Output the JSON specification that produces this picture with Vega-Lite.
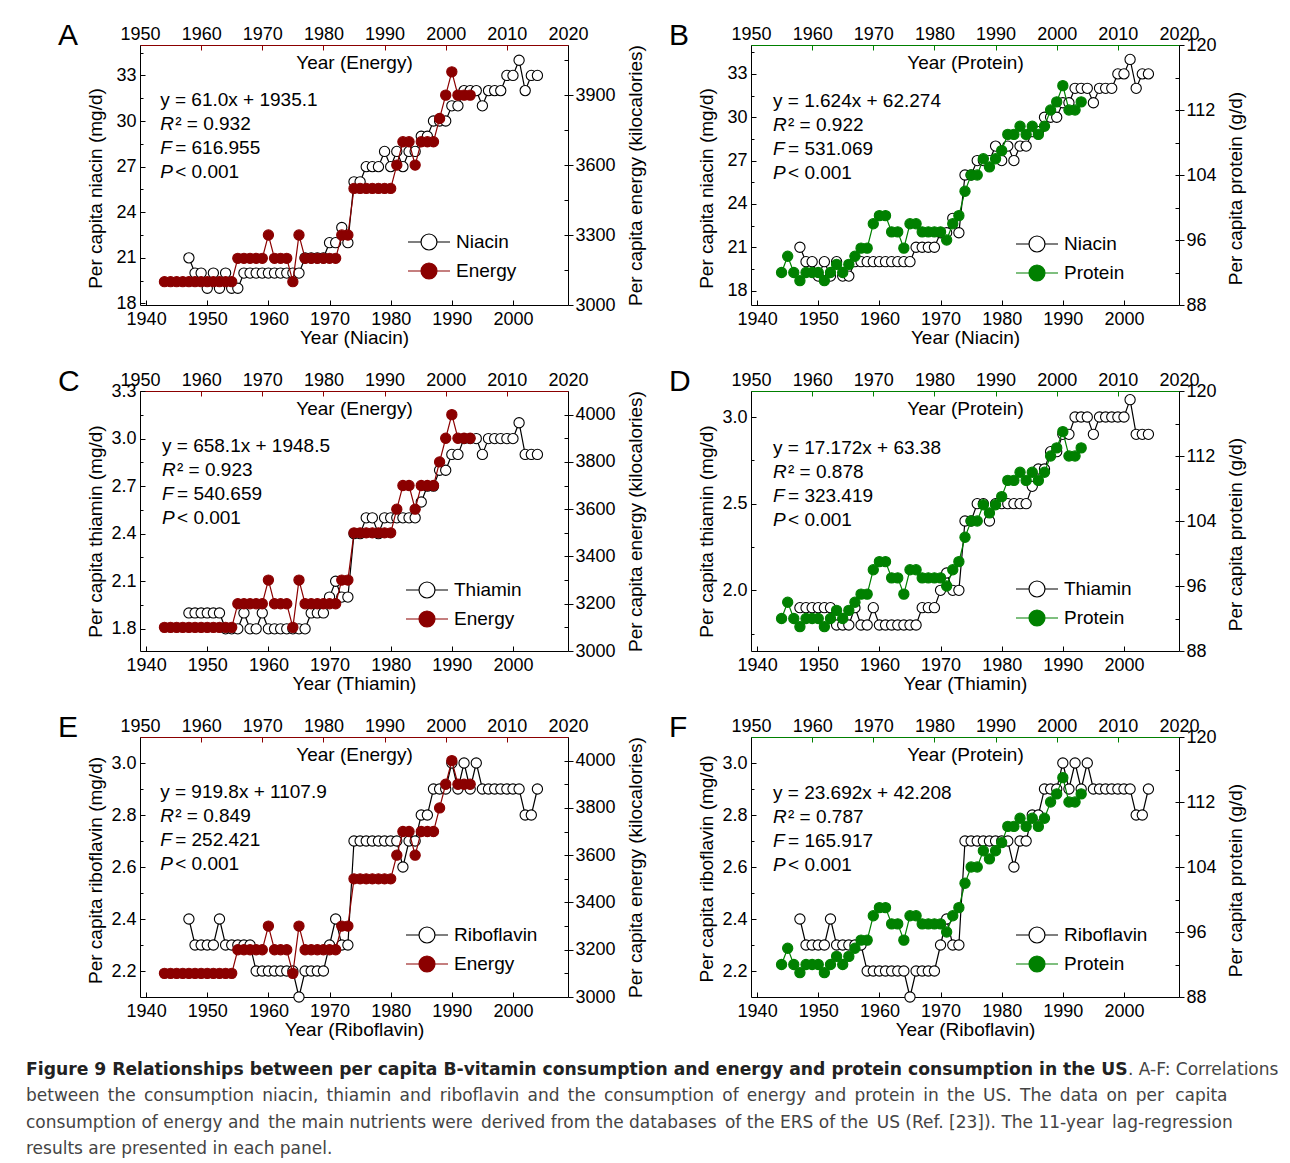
{
  "$schema": "https://vega.github.io/schema/vega-lite/v6.json",
  "background": "white",
  "padding": {"left": 26, "top": 21, "right": 5, "bottom": 5},
  "datasets": {
    "niacin": [
      {"year": 1947, "Niacin": 21}, {"year": 1948, "Niacin": 20}, {"year": 1949, "Niacin": 20}, {"year": 1950, "Niacin": 19},
      {"year": 1951, "Niacin": 20}, {"year": 1952, "Niacin": 19}, {"year": 1953, "Niacin": 20}, {"year": 1954, "Niacin": 19},
      {"year": 1955, "Niacin": 19}, {"year": 1956, "Niacin": 20}, {"year": 1957, "Niacin": 20}, {"year": 1958, "Niacin": 20},
      {"year": 1959, "Niacin": 20}, {"year": 1960, "Niacin": 20}, {"year": 1961, "Niacin": 20}, {"year": 1962, "Niacin": 20},
      {"year": 1963, "Niacin": 20}, {"year": 1964, "Niacin": 20}, {"year": 1965, "Niacin": 20}, {"year": 1966, "Niacin": 21},
      {"year": 1967, "Niacin": 21}, {"year": 1968, "Niacin": 21}, {"year": 1969, "Niacin": 21}, {"year": 1970, "Niacin": 22},
      {"year": 1971, "Niacin": 22}, {"year": 1972, "Niacin": 23}, {"year": 1973, "Niacin": 22}, {"year": 1974, "Niacin": 26},
      {"year": 1975, "Niacin": 26}, {"year": 1976, "Niacin": 27}, {"year": 1977, "Niacin": 27}, {"year": 1978, "Niacin": 27},
      {"year": 1979, "Niacin": 28}, {"year": 1980, "Niacin": 27}, {"year": 1981, "Niacin": 28}, {"year": 1982, "Niacin": 27},
      {"year": 1983, "Niacin": 28}, {"year": 1984, "Niacin": 28}, {"year": 1985, "Niacin": 29}, {"year": 1986, "Niacin": 29},
      {"year": 1987, "Niacin": 30}, {"year": 1988, "Niacin": 30}, {"year": 1989, "Niacin": 30}, {"year": 1990, "Niacin": 31},
      {"year": 1991, "Niacin": 31}, {"year": 1992, "Niacin": 32}, {"year": 1993, "Niacin": 32}, {"year": 1994, "Niacin": 32},
      {"year": 1995, "Niacin": 31}, {"year": 1996, "Niacin": 32}, {"year": 1997, "Niacin": 32}, {"year": 1998, "Niacin": 32},
      {"year": 1999, "Niacin": 33}, {"year": 2000, "Niacin": 33}, {"year": 2001, "Niacin": 34}, {"year": 2002, "Niacin": 32},
      {"year": 2003, "Niacin": 33}, {"year": 2004, "Niacin": 33}
    ],
    "thiamin": [
      {"year": 1947, "Thiamin": 1.9}, {"year": 1948, "Thiamin": 1.9}, {"year": 1949, "Thiamin": 1.9}, {"year": 1950, "Thiamin": 1.9},
      {"year": 1951, "Thiamin": 1.9}, {"year": 1952, "Thiamin": 1.9}, {"year": 1953, "Thiamin": 1.8}, {"year": 1954, "Thiamin": 1.8},
      {"year": 1955, "Thiamin": 1.8}, {"year": 1956, "Thiamin": 1.9}, {"year": 1957, "Thiamin": 1.8}, {"year": 1958, "Thiamin": 1.8},
      {"year": 1959, "Thiamin": 1.9}, {"year": 1960, "Thiamin": 1.8}, {"year": 1961, "Thiamin": 1.8}, {"year": 1962, "Thiamin": 1.8},
      {"year": 1963, "Thiamin": 1.8}, {"year": 1964, "Thiamin": 1.8}, {"year": 1965, "Thiamin": 1.8}, {"year": 1966, "Thiamin": 1.8},
      {"year": 1967, "Thiamin": 1.9}, {"year": 1968, "Thiamin": 1.9}, {"year": 1969, "Thiamin": 1.9}, {"year": 1970, "Thiamin": 2.0},
      {"year": 1971, "Thiamin": 2.1}, {"year": 1972, "Thiamin": 2.0}, {"year": 1973, "Thiamin": 2.0}, {"year": 1974, "Thiamin": 2.4},
      {"year": 1975, "Thiamin": 2.4}, {"year": 1976, "Thiamin": 2.5}, {"year": 1977, "Thiamin": 2.5}, {"year": 1978, "Thiamin": 2.4},
      {"year": 1979, "Thiamin": 2.5}, {"year": 1980, "Thiamin": 2.5}, {"year": 1981, "Thiamin": 2.5}, {"year": 1982, "Thiamin": 2.5},
      {"year": 1983, "Thiamin": 2.5}, {"year": 1984, "Thiamin": 2.5}, {"year": 1985, "Thiamin": 2.6}, {"year": 1986, "Thiamin": 2.7},
      {"year": 1987, "Thiamin": 2.7}, {"year": 1988, "Thiamin": 2.8}, {"year": 1989, "Thiamin": 2.8}, {"year": 1990, "Thiamin": 2.9},
      {"year": 1991, "Thiamin": 2.9}, {"year": 1992, "Thiamin": 3.0}, {"year": 1993, "Thiamin": 3.0}, {"year": 1994, "Thiamin": 3.0},
      {"year": 1995, "Thiamin": 2.9}, {"year": 1996, "Thiamin": 3.0}, {"year": 1997, "Thiamin": 3.0}, {"year": 1998, "Thiamin": 3.0},
      {"year": 1999, "Thiamin": 3.0}, {"year": 2000, "Thiamin": 3.0}, {"year": 2001, "Thiamin": 3.1}, {"year": 2002, "Thiamin": 2.9},
      {"year": 2003, "Thiamin": 2.9}, {"year": 2004, "Thiamin": 2.9}
    ],
    "riboflavin": [
      {"year": 1947, "Riboflavin": 2.4}, {"year": 1948, "Riboflavin": 2.3}, {"year": 1949, "Riboflavin": 2.3}, {"year": 1950, "Riboflavin": 2.3},
      {"year": 1951, "Riboflavin": 2.3}, {"year": 1952, "Riboflavin": 2.4}, {"year": 1953, "Riboflavin": 2.3}, {"year": 1954, "Riboflavin": 2.3},
      {"year": 1955, "Riboflavin": 2.3}, {"year": 1956, "Riboflavin": 2.3}, {"year": 1957, "Riboflavin": 2.3}, {"year": 1958, "Riboflavin": 2.2},
      {"year": 1959, "Riboflavin": 2.2}, {"year": 1960, "Riboflavin": 2.2}, {"year": 1961, "Riboflavin": 2.2}, {"year": 1962, "Riboflavin": 2.2},
      {"year": 1963, "Riboflavin": 2.2}, {"year": 1964, "Riboflavin": 2.2}, {"year": 1965, "Riboflavin": 2.1}, {"year": 1966, "Riboflavin": 2.2},
      {"year": 1967, "Riboflavin": 2.2}, {"year": 1968, "Riboflavin": 2.2}, {"year": 1969, "Riboflavin": 2.2}, {"year": 1970, "Riboflavin": 2.3},
      {"year": 1971, "Riboflavin": 2.4}, {"year": 1972, "Riboflavin": 2.3}, {"year": 1973, "Riboflavin": 2.3}, {"year": 1974, "Riboflavin": 2.7},
      {"year": 1975, "Riboflavin": 2.7}, {"year": 1976, "Riboflavin": 2.7}, {"year": 1977, "Riboflavin": 2.7}, {"year": 1978, "Riboflavin": 2.7},
      {"year": 1979, "Riboflavin": 2.7}, {"year": 1980, "Riboflavin": 2.7}, {"year": 1981, "Riboflavin": 2.7}, {"year": 1982, "Riboflavin": 2.6},
      {"year": 1983, "Riboflavin": 2.7}, {"year": 1984, "Riboflavin": 2.7}, {"year": 1985, "Riboflavin": 2.8}, {"year": 1986, "Riboflavin": 2.8},
      {"year": 1987, "Riboflavin": 2.9}, {"year": 1988, "Riboflavin": 2.9}, {"year": 1989, "Riboflavin": 2.9}, {"year": 1990, "Riboflavin": 3.0},
      {"year": 1991, "Riboflavin": 2.9}, {"year": 1992, "Riboflavin": 3.0}, {"year": 1993, "Riboflavin": 2.9}, {"year": 1994, "Riboflavin": 3.0},
      {"year": 1995, "Riboflavin": 2.9}, {"year": 1996, "Riboflavin": 2.9}, {"year": 1997, "Riboflavin": 2.9}, {"year": 1998, "Riboflavin": 2.9},
      {"year": 1999, "Riboflavin": 2.9}, {"year": 2000, "Riboflavin": 2.9}, {"year": 2001, "Riboflavin": 2.9}, {"year": 2002, "Riboflavin": 2.8},
      {"year": 2003, "Riboflavin": 2.8}, {"year": 2004, "Riboflavin": 2.9}
    ],
    "energy": [
      {"year": 1954, "Energy": 3100}, {"year": 1955, "Energy": 3100}, {"year": 1956, "Energy": 3100}, {"year": 1957, "Energy": 3100},
      {"year": 1958, "Energy": 3100}, {"year": 1959, "Energy": 3100}, {"year": 1960, "Energy": 3100}, {"year": 1961, "Energy": 3100},
      {"year": 1962, "Energy": 3100}, {"year": 1963, "Energy": 3100}, {"year": 1964, "Energy": 3100}, {"year": 1965, "Energy": 3100},
      {"year": 1966, "Energy": 3200}, {"year": 1967, "Energy": 3200}, {"year": 1968, "Energy": 3200}, {"year": 1969, "Energy": 3200},
      {"year": 1970, "Energy": 3200}, {"year": 1971, "Energy": 3300}, {"year": 1972, "Energy": 3200}, {"year": 1973, "Energy": 3200},
      {"year": 1974, "Energy": 3200}, {"year": 1975, "Energy": 3100}, {"year": 1976, "Energy": 3300}, {"year": 1977, "Energy": 3200},
      {"year": 1978, "Energy": 3200}, {"year": 1979, "Energy": 3200}, {"year": 1980, "Energy": 3200}, {"year": 1981, "Energy": 3200},
      {"year": 1982, "Energy": 3200}, {"year": 1983, "Energy": 3300}, {"year": 1984, "Energy": 3300}, {"year": 1985, "Energy": 3500},
      {"year": 1986, "Energy": 3500}, {"year": 1987, "Energy": 3500}, {"year": 1988, "Energy": 3500}, {"year": 1989, "Energy": 3500},
      {"year": 1990, "Energy": 3500}, {"year": 1991, "Energy": 3500}, {"year": 1992, "Energy": 3600}, {"year": 1993, "Energy": 3700},
      {"year": 1994, "Energy": 3700}, {"year": 1995, "Energy": 3600}, {"year": 1996, "Energy": 3700}, {"year": 1997, "Energy": 3700},
      {"year": 1998, "Energy": 3700}, {"year": 1999, "Energy": 3800}, {"year": 2000, "Energy": 3900}, {"year": 2001, "Energy": 4000},
      {"year": 2002, "Energy": 3900}, {"year": 2003, "Energy": 3900}, {"year": 2004, "Energy": 3900}
    ],
    "protein": [
      {"year": 1955, "Protein": 92}, {"year": 1956, "Protein": 94}, {"year": 1957, "Protein": 92}, {"year": 1958, "Protein": 91},
      {"year": 1959, "Protein": 92}, {"year": 1960, "Protein": 92}, {"year": 1961, "Protein": 92}, {"year": 1962, "Protein": 91},
      {"year": 1963, "Protein": 92}, {"year": 1964, "Protein": 93}, {"year": 1965, "Protein": 92}, {"year": 1966, "Protein": 93},
      {"year": 1967, "Protein": 94}, {"year": 1968, "Protein": 95}, {"year": 1969, "Protein": 95}, {"year": 1970, "Protein": 98},
      {"year": 1971, "Protein": 99}, {"year": 1972, "Protein": 99}, {"year": 1973, "Protein": 97}, {"year": 1974, "Protein": 97},
      {"year": 1975, "Protein": 95}, {"year": 1976, "Protein": 98}, {"year": 1977, "Protein": 98}, {"year": 1978, "Protein": 97},
      {"year": 1979, "Protein": 97}, {"year": 1980, "Protein": 97}, {"year": 1981, "Protein": 97}, {"year": 1982, "Protein": 96},
      {"year": 1983, "Protein": 98}, {"year": 1984, "Protein": 99}, {"year": 1985, "Protein": 102}, {"year": 1986, "Protein": 104},
      {"year": 1987, "Protein": 104}, {"year": 1988, "Protein": 106}, {"year": 1989, "Protein": 105}, {"year": 1990, "Protein": 106},
      {"year": 1991, "Protein": 107}, {"year": 1992, "Protein": 109}, {"year": 1993, "Protein": 109}, {"year": 1994, "Protein": 110},
      {"year": 1995, "Protein": 109}, {"year": 1996, "Protein": 110}, {"year": 1997, "Protein": 109}, {"year": 1998, "Protein": 110},
      {"year": 1999, "Protein": 112}, {"year": 2000, "Protein": 113}, {"year": 2001, "Protein": 115}, {"year": 2002, "Protein": 112},
      {"year": 2003, "Protein": 112}, {"year": 2004, "Protein": 113}
    ],
    "eq": [
      {"panel": "A", "eq": "y = 61.0x + 1935.1", "it": "\nR\nF\nP", "rest": "\n² = 0.932\n= 616.955\n< 0.001"},
      {"panel": "B", "eq": "y = 1.624x + 62.274", "it": "\nR\nF\nP", "rest": "\n² = 0.922\n= 531.069\n< 0.001"},
      {"panel": "C", "eq": "y = 658.1x + 1948.5", "it": "\nR\nF\nP", "rest": "\n² = 0.923\n= 540.659\n< 0.001"},
      {"panel": "D", "eq": "y = 17.172x + 63.38", "it": "\nR\nF\nP", "rest": "\n² = 0.878\n= 323.419\n< 0.001"},
      {"panel": "E", "eq": "y = 919.8x + 1107.9", "it": "\nR\nF\nP", "rest": "\n² = 0.849\n= 252.421\n< 0.001"},
      {"panel": "F", "eq": "y = 23.692x + 42.208", "it": "\nR\nF\nP", "rest": "\n² = 0.787\n= 165.917\n< 0.001"}
    ],
    "caption": [
      {"line": 1, "part": "title", "text": "Figure 9 Relationships between per capita B-vitamin consumption and energy and protein consumption in the US"},
      {"line": 1, "part": "lead", "text": ". A-F: Correlations"},
      {"line": 2, "part": "body", "text": "between \u2006the \u2006consumption \u2006niacin, \u2006thiamin \u2006and \u2006riboflavin \u2006and \u2006the \u2006consumption \u2006of \u2006energy \u2006and \u2006protein \u2006in \u2006the \u2006US. \u2006The \u2006data \u2006on \u2006per \u2006\u2006capita"},
      {"line": 3, "part": "body", "text": "consumption of energy and \u2006the main nutrients were \u2006derived from the databases \u2006of the ERS of the \u2006US (Ref. [23]). The 11-year \u2006lag-regression"},
      {"line": 4, "part": "body", "text": "results are presented in each panel."}
    ]
  },
  "bounds": "flush",
  "columns": 2,
  "spacing": {"row": 86, "column": 183},
  "resolve": {"scale": {"color": "independent", "fill": "independent"}, "legend": {"color": "independent", "fill": "independent"}},
  "concat": [
    {
      "width": 428, "height": 260, "title": "A",
      "resolve": {"scale": {"x": "independent", "y": "independent"}},
      "layer": [
        {"data": {"name": "niacin"}, "transform": [{"fold": ["Niacin"], "as": ["series", "v"]}], "mark": "line",
         "encoding": {
           "x": {"field": "year", "type": "quantitative", "scale": {"domain": [1939, 2009], "nice": false, "zero": false},
                 "axis": {"orient": "bottom", "values": [1940, 1950, 1960, 1970, 1980, 1990, 2000], "format": "d", "title": "Year (Niacin)"}},
           "y": {"field": "v", "type": "quantitative", "scale": {"domain": [17.9, 35], "nice": false, "zero": false},
                 "axis": {"orient": "left", "values": [18, 21, 24, 27, 30, 33], "format": "d", "title": "Per capita niacin (mg/d)", "titleY": 143}},
           "color": {"field": "series", "type": "nominal", "scale": {"domain": ["Niacin", "Energy"], "range": ["#000000", "#8b0000"]}, "legend": {"title": null, "legendX": 267, "legendY": 182.5}}}},
        {"data": {"name": "niacin"}, "transform": [{"fold": ["Niacin"], "as": ["series", "v"]}], "mark": "point",
         "encoding": {
           "x": {"field": "year", "type": "quantitative", "scale": {"domain": [1939, 2009], "nice": false, "zero": false}, "axis": null},
           "y": {"field": "v", "type": "quantitative", "scale": {"domain": [17.9, 35], "nice": false, "zero": false},
                 "axis": {"orient": "left", "values": [19.5, 22.5, 25.5, 28.5, 31.5, 34.5], "labels": false, "domain": false, "title": null, "tickSize": -3}},
           "color": {"field": "series", "type": "nominal", "scale": {"domain": ["Niacin", "Energy"], "range": ["#000000", "#8b0000"]}, "legend": {"title": null, "legendX": 267, "legendY": 182.5}},
           "fill": {"field": "series", "type": "nominal", "scale": {"domain": ["Niacin", "Energy"], "range": ["#ffffff", "#8b0000"]}, "legend": {"title": null, "legendX": 267, "legendY": 182.5}}}},
        {"data": {"name": "energy"}, "transform": [{"fold": ["Energy"], "as": ["series", "v"]}], "mark": "line",
         "encoding": {
           "x": {"field": "year", "type": "quantitative", "scale": {"domain": [1950, 2020], "nice": false, "zero": false},
                 "axis": {"orient": "top", "values": [1950, 1960, 1970, 1980, 1990, 2000, 2010, 2020], "format": "d", "title": "Year (Energy)", "domainColor": "#8b0000", "tickColor": "#8b0000"}},
           "y": {"field": "v", "type": "quantitative", "scale": {"domain": [3000, 4115], "nice": false, "zero": false},
                 "axis": {"orient": "right", "values": [3000, 3300, 3600, 3900], "format": "d", "title": "Per capita energy (kilocalories)", "titleY": 130}},
           "color": {"field": "series", "type": "nominal", "scale": {"domain": ["Niacin", "Energy"], "range": ["#000000", "#8b0000"]}, "legend": {"title": null, "legendX": 267, "legendY": 182.5}}}},
        {"data": {"name": "energy"}, "transform": [{"fold": ["Energy"], "as": ["series", "v"]}], "mark": "point",
         "encoding": {
           "x": {"field": "year", "type": "quantitative", "scale": {"domain": [1950, 2020], "nice": false, "zero": false}, "axis": null},
           "y": {"field": "v", "type": "quantitative", "scale": {"domain": [3000, 4115], "nice": false, "zero": false},
                 "axis": {"orient": "right", "values": [3150, 3300, 3450, 3600, 3750, 3900, 4050], "labels": false, "domain": false, "title": null, "tickSize": -4}},
           "color": {"field": "series", "type": "nominal", "scale": {"domain": ["Niacin", "Energy"], "range": ["#000000", "#8b0000"]}, "legend": {"title": null, "legendX": 267, "legendY": 182.5}},
           "fill": {"field": "series", "type": "nominal", "scale": {"domain": ["Niacin", "Energy"], "range": ["#ffffff", "#8b0000"]}, "legend": {"title": null, "legendX": 267, "legendY": 182.5}}}},
        {"data": {"name": "eq"}, "transform": [{"filter": "datum.panel == 'A'"}], "mark": {"type": "text", "style": "eq"},
         "encoding": {"x": {"datum": 1942.3, "type": "quantitative", "scale": {"domain": [1939, 2009], "nice": false, "zero": false}, "axis": null},
                      "y": {"datum": 32.0, "type": "quantitative", "scale": {"domain": [17.9, 35], "nice": false, "zero": false}, "axis": null},
                      "text": {"field": "eq"}, "color": {"value": "#000000"}}},
        {"data": {"name": "eq"}, "transform": [{"filter": "datum.panel == 'A'"}], "mark": {"type": "text", "style": "eqi"},
         "encoding": {"x": {"datum": 1942.3, "type": "quantitative", "scale": {"domain": [1939, 2009], "nice": false, "zero": false}, "axis": null},
                      "y": {"datum": 32.0, "type": "quantitative", "scale": {"domain": [17.9, 35], "nice": false, "zero": false}, "axis": null},
                      "text": {"field": "it"}, "color": {"value": "#000000"}}},
        {"data": {"name": "eq"}, "transform": [{"filter": "datum.panel == 'A'"}], "mark": {"type": "text", "style": "eqr"},
         "encoding": {"x": {"datum": 1942.3, "type": "quantitative", "scale": {"domain": [1939, 2009], "nice": false, "zero": false}, "axis": null},
                      "y": {"datum": 32.0, "type": "quantitative", "scale": {"domain": [17.9, 35], "nice": false, "zero": false}, "axis": null},
                      "text": {"field": "rest"}, "color": {"value": "#000000"}}}
      ]
    },
    {
      "width": 428, "height": 260, "title": "B",
      "resolve": {"scale": {"x": "independent", "y": "independent"}},
      "layer": [
        {"data": {"name": "niacin"}, "transform": [{"fold": ["Niacin"], "as": ["series", "v"]}], "mark": "line",
         "encoding": {
           "x": {"field": "year", "type": "quantitative", "scale": {"domain": [1939, 2009], "nice": false, "zero": false},
                 "axis": {"orient": "bottom", "values": [1940, 1950, 1960, 1970, 1980, 1990, 2000], "format": "d", "title": "Year (Niacin)"}},
           "y": {"field": "v", "type": "quantitative", "scale": {"domain": [17, 35], "nice": false, "zero": false},
                 "axis": {"orient": "left", "values": [18, 21, 24, 27, 30, 33], "format": "d", "title": "Per capita niacin (mg/d)", "titleY": 143}},
           "color": {"field": "series", "type": "nominal", "scale": {"domain": ["Niacin", "Protein"], "range": ["#000000", "#008000"]}, "legend": {"title": null, "legendX": 264, "legendY": 184.5}}}},
        {"data": {"name": "niacin"}, "transform": [{"fold": ["Niacin"], "as": ["series", "v"]}], "mark": "point",
         "encoding": {
           "x": {"field": "year", "type": "quantitative", "scale": {"domain": [1939, 2009], "nice": false, "zero": false}, "axis": null},
           "y": {"field": "v", "type": "quantitative", "scale": {"domain": [17, 35], "nice": false, "zero": false},
                 "axis": {"orient": "left", "values": [19.5, 22.5, 25.5, 28.5, 31.5, 34.5], "labels": false, "domain": false, "title": null, "tickSize": -3}},
           "color": {"field": "series", "type": "nominal", "scale": {"domain": ["Niacin", "Protein"], "range": ["#000000", "#008000"]}, "legend": {"title": null, "legendX": 264, "legendY": 184.5}},
           "fill": {"field": "series", "type": "nominal", "scale": {"domain": ["Niacin", "Protein"], "range": ["#ffffff", "#008000"]}, "legend": {"title": null, "legendX": 264, "legendY": 184.5}}}},
        {"data": {"name": "protein"}, "transform": [{"fold": ["Protein"], "as": ["series", "v"]}], "mark": "line",
         "encoding": {
           "x": {"field": "year", "type": "quantitative", "scale": {"domain": [1950, 2020], "nice": false, "zero": false},
                 "axis": {"orient": "top", "values": [1950, 1960, 1970, 1980, 1990, 2000, 2010, 2020], "format": "d", "title": "Year (Protein)", "domainColor": "#008000", "tickColor": "#008000"}},
           "y": {"field": "v", "type": "quantitative", "scale": {"domain": [88, 120], "nice": false, "zero": false},
                 "axis": {"orient": "right", "values": [88, 96, 104, 112, 120], "format": "d", "title": "Per capita protein (g/d)", "titleY": 143, "titleX": 56}},
           "color": {"field": "series", "type": "nominal", "scale": {"domain": ["Niacin", "Protein"], "range": ["#000000", "#008000"]}, "legend": {"title": null, "legendX": 264, "legendY": 184.5}}}},
        {"data": {"name": "protein"}, "transform": [{"fold": ["Protein"], "as": ["series", "v"]}], "mark": "point",
         "encoding": {
           "x": {"field": "year", "type": "quantitative", "scale": {"domain": [1950, 2020], "nice": false, "zero": false}, "axis": null},
           "y": {"field": "v", "type": "quantitative", "scale": {"domain": [88, 120], "nice": false, "zero": false},
                 "axis": {"orient": "right", "values": [92, 96, 100, 104, 108, 112, 116], "labels": false, "domain": false, "title": null, "tickSize": -4}},
           "color": {"field": "series", "type": "nominal", "scale": {"domain": ["Niacin", "Protein"], "range": ["#000000", "#008000"]}, "legend": {"title": null, "legendX": 264, "legendY": 184.5}},
           "fill": {"field": "series", "type": "nominal", "scale": {"domain": ["Niacin", "Protein"], "range": ["#ffffff", "#008000"]}, "legend": {"title": null, "legendX": 264, "legendY": 184.5}}}},
        {"data": {"name": "eq"}, "transform": [{"filter": "datum.panel == 'B'"}], "mark": {"type": "text", "style": "eq"},
         "encoding": {"x": {"datum": 1942.6, "type": "quantitative", "scale": {"domain": [1939, 2009], "nice": false, "zero": false}, "axis": null},
                      "y": {"datum": 31.75, "type": "quantitative", "scale": {"domain": [17, 35], "nice": false, "zero": false}, "axis": null},
                      "text": {"field": "eq"}, "color": {"value": "#000000"}}},
        {"data": {"name": "eq"}, "transform": [{"filter": "datum.panel == 'B'"}], "mark": {"type": "text", "style": "eqi"},
         "encoding": {"x": {"datum": 1942.6, "type": "quantitative", "scale": {"domain": [1939, 2009], "nice": false, "zero": false}, "axis": null},
                      "y": {"datum": 31.75, "type": "quantitative", "scale": {"domain": [17, 35], "nice": false, "zero": false}, "axis": null},
                      "text": {"field": "it"}, "color": {"value": "#000000"}}},
        {"data": {"name": "eq"}, "transform": [{"filter": "datum.panel == 'B'"}], "mark": {"type": "text", "style": "eqr"},
         "encoding": {"x": {"datum": 1942.6, "type": "quantitative", "scale": {"domain": [1939, 2009], "nice": false, "zero": false}, "axis": null},
                      "y": {"datum": 31.75, "type": "quantitative", "scale": {"domain": [17, 35], "nice": false, "zero": false}, "axis": null},
                      "text": {"field": "rest"}, "color": {"value": "#000000"}}}
      ]
    },
    {
      "width": 428, "height": 260, "title": "C",
      "resolve": {"scale": {"x": "independent", "y": "independent"}},
      "layer": [
        {"data": {"name": "thiamin"}, "transform": [{"fold": ["Thiamin"], "as": ["series", "v"]}], "mark": "line",
         "encoding": {
           "x": {"field": "year", "type": "quantitative", "scale": {"domain": [1939, 2009], "nice": false, "zero": false},
                 "axis": {"orient": "bottom", "values": [1940, 1950, 1960, 1970, 1980, 1990, 2000], "format": "d", "title": "Year (Thiamin)"}},
           "y": {"field": "v", "type": "quantitative", "scale": {"domain": [1.66, 3.3], "nice": false, "zero": false},
                 "axis": {"orient": "left", "values": [1.8, 2.1, 2.4, 2.7, 3.0, 3.3], "format": ".1f", "title": "Per capita thiamin (mg/d)", "titleY": 140}},
           "color": {"field": "series", "type": "nominal", "scale": {"domain": ["Thiamin", "Energy"], "range": ["#000000", "#8b0000"]}, "legend": {"title": null, "legendX": 265, "legendY": 184.5}}}},
        {"data": {"name": "thiamin"}, "transform": [{"fold": ["Thiamin"], "as": ["series", "v"]}], "mark": "point",
         "encoding": {
           "x": {"field": "year", "type": "quantitative", "scale": {"domain": [1939, 2009], "nice": false, "zero": false}, "axis": null},
           "y": {"field": "v", "type": "quantitative", "scale": {"domain": [1.66, 3.3], "nice": false, "zero": false},
                 "axis": {"orient": "left", "values": [1.95, 2.25, 2.55, 2.85, 3.15], "labels": false, "domain": false, "title": null, "tickSize": -3}},
           "color": {"field": "series", "type": "nominal", "scale": {"domain": ["Thiamin", "Energy"], "range": ["#000000", "#8b0000"]}, "legend": {"title": null, "legendX": 265, "legendY": 184.5}},
           "fill": {"field": "series", "type": "nominal", "scale": {"domain": ["Thiamin", "Energy"], "range": ["#ffffff", "#8b0000"]}, "legend": {"title": null, "legendX": 265, "legendY": 184.5}}}},
        {"data": {"name": "energy"}, "transform": [{"fold": ["Energy"], "as": ["series", "v"]}], "mark": "line",
         "encoding": {
           "x": {"field": "year", "type": "quantitative", "scale": {"domain": [1950, 2020], "nice": false, "zero": false},
                 "axis": {"orient": "top", "values": [1950, 1960, 1970, 1980, 1990, 2000, 2010, 2020], "format": "d", "title": "Year (Energy)", "domainColor": "#8b0000", "tickColor": "#8b0000"}},
           "y": {"field": "v", "type": "quantitative", "scale": {"domain": [3000, 4100], "nice": false, "zero": false},
                 "axis": {"orient": "right", "values": [3000, 3200, 3400, 3600, 3800, 4000], "format": "d", "title": "Per capita energy (kilocalories)", "titleY": 130}},
           "color": {"field": "series", "type": "nominal", "scale": {"domain": ["Thiamin", "Energy"], "range": ["#000000", "#8b0000"]}, "legend": {"title": null, "legendX": 265, "legendY": 184.5}}}},
        {"data": {"name": "energy"}, "transform": [{"fold": ["Energy"], "as": ["series", "v"]}], "mark": "point",
         "encoding": {
           "x": {"field": "year", "type": "quantitative", "scale": {"domain": [1950, 2020], "nice": false, "zero": false}, "axis": null},
           "y": {"field": "v", "type": "quantitative", "scale": {"domain": [3000, 4100], "nice": false, "zero": false},
                 "axis": {"orient": "right", "values": [3100, 3200, 3300, 3400, 3500, 3600, 3700, 3800, 3900, 4000], "labels": false, "domain": false, "title": null, "tickSize": -4}},
           "color": {"field": "series", "type": "nominal", "scale": {"domain": ["Thiamin", "Energy"], "range": ["#000000", "#8b0000"]}, "legend": {"title": null, "legendX": 265, "legendY": 184.5}},
           "fill": {"field": "series", "type": "nominal", "scale": {"domain": ["Thiamin", "Energy"], "range": ["#ffffff", "#8b0000"]}, "legend": {"title": null, "legendX": 265, "legendY": 184.5}}}},
        {"data": {"name": "eq"}, "transform": [{"filter": "datum.panel == 'C'"}], "mark": {"type": "text", "style": "eq"},
         "encoding": {"x": {"datum": 1942.6, "type": "quantitative", "scale": {"domain": [1939, 2009], "nice": false, "zero": false}, "axis": null},
                      "y": {"datum": 3.009, "type": "quantitative", "scale": {"domain": [1.66, 3.3], "nice": false, "zero": false}, "axis": null},
                      "text": {"field": "eq"}, "color": {"value": "#000000"}}},
        {"data": {"name": "eq"}, "transform": [{"filter": "datum.panel == 'C'"}], "mark": {"type": "text", "style": "eqi"},
         "encoding": {"x": {"datum": 1942.6, "type": "quantitative", "scale": {"domain": [1939, 2009], "nice": false, "zero": false}, "axis": null},
                      "y": {"datum": 3.009, "type": "quantitative", "scale": {"domain": [1.66, 3.3], "nice": false, "zero": false}, "axis": null},
                      "text": {"field": "it"}, "color": {"value": "#000000"}}},
        {"data": {"name": "eq"}, "transform": [{"filter": "datum.panel == 'C'"}], "mark": {"type": "text", "style": "eqr"},
         "encoding": {"x": {"datum": 1942.6, "type": "quantitative", "scale": {"domain": [1939, 2009], "nice": false, "zero": false}, "axis": null},
                      "y": {"datum": 3.009, "type": "quantitative", "scale": {"domain": [1.66, 3.3], "nice": false, "zero": false}, "axis": null},
                      "text": {"field": "rest"}, "color": {"value": "#000000"}}}
      ]
    },
    {
      "width": 428, "height": 260, "title": "D",
      "resolve": {"scale": {"x": "independent", "y": "independent"}},
      "layer": [
        {"data": {"name": "thiamin"}, "transform": [{"fold": ["Thiamin"], "as": ["series", "v"]}], "mark": "line",
         "encoding": {
           "x": {"field": "year", "type": "quantitative", "scale": {"domain": [1939, 2009], "nice": false, "zero": false},
                 "axis": {"orient": "bottom", "values": [1940, 1950, 1960, 1970, 1980, 1990, 2000], "format": "d", "title": "Year (Thiamin)"}},
           "y": {"field": "v", "type": "quantitative", "scale": {"domain": [1.65, 3.15], "nice": false, "zero": false},
                 "axis": {"orient": "left", "values": [2.0, 2.5, 3.0], "format": ".1f", "title": "Per capita thiamin (mg/d)", "titleY": 140}},
           "color": {"field": "series", "type": "nominal", "scale": {"domain": ["Thiamin", "Protein"], "range": ["#000000", "#008000"]}, "legend": {"title": null, "legendX": 264, "legendY": 183.5}}}},
        {"data": {"name": "thiamin"}, "transform": [{"fold": ["Thiamin"], "as": ["series", "v"]}], "mark": "point",
         "encoding": {
           "x": {"field": "year", "type": "quantitative", "scale": {"domain": [1939, 2009], "nice": false, "zero": false}, "axis": null},
           "y": {"field": "v", "type": "quantitative", "scale": {"domain": [1.65, 3.15], "nice": false, "zero": false},
                 "axis": {"orient": "left", "values": [1.75, 2.25, 2.75], "labels": false, "domain": false, "title": null, "tickSize": -3}},
           "color": {"field": "series", "type": "nominal", "scale": {"domain": ["Thiamin", "Protein"], "range": ["#000000", "#008000"]}, "legend": {"title": null, "legendX": 264, "legendY": 183.5}},
           "fill": {"field": "series", "type": "nominal", "scale": {"domain": ["Thiamin", "Protein"], "range": ["#ffffff", "#008000"]}, "legend": {"title": null, "legendX": 264, "legendY": 183.5}}}},
        {"data": {"name": "protein"}, "transform": [{"fold": ["Protein"], "as": ["series", "v"]}], "mark": "line",
         "encoding": {
           "x": {"field": "year", "type": "quantitative", "scale": {"domain": [1950, 2020], "nice": false, "zero": false},
                 "axis": {"orient": "top", "values": [1950, 1960, 1970, 1980, 1990, 2000, 2010, 2020], "format": "d", "title": "Year (Protein)", "domainColor": "#008000", "tickColor": "#008000"}},
           "y": {"field": "v", "type": "quantitative", "scale": {"domain": [88, 120], "nice": false, "zero": false},
                 "axis": {"orient": "right", "values": [88, 96, 104, 112, 120], "format": "d", "title": "Per capita protein (g/d)", "titleY": 143, "titleX": 56}},
           "color": {"field": "series", "type": "nominal", "scale": {"domain": ["Thiamin", "Protein"], "range": ["#000000", "#008000"]}, "legend": {"title": null, "legendX": 264, "legendY": 183.5}}}},
        {"data": {"name": "protein"}, "transform": [{"fold": ["Protein"], "as": ["series", "v"]}], "mark": "point",
         "encoding": {
           "x": {"field": "year", "type": "quantitative", "scale": {"domain": [1950, 2020], "nice": false, "zero": false}, "axis": null},
           "y": {"field": "v", "type": "quantitative", "scale": {"domain": [88, 120], "nice": false, "zero": false},
                 "axis": {"orient": "right", "values": [92, 96, 100, 104, 108, 112, 116], "labels": false, "domain": false, "title": null, "tickSize": -4}},
           "color": {"field": "series", "type": "nominal", "scale": {"domain": ["Thiamin", "Protein"], "range": ["#000000", "#008000"]}, "legend": {"title": null, "legendX": 264, "legendY": 183.5}},
           "fill": {"field": "series", "type": "nominal", "scale": {"domain": ["Thiamin", "Protein"], "range": ["#ffffff", "#008000"]}, "legend": {"title": null, "legendX": 264, "legendY": 183.5}}}},
        {"data": {"name": "eq"}, "transform": [{"filter": "datum.panel == 'D'"}], "mark": {"type": "text", "style": "eq"},
         "encoding": {"x": {"datum": 1942.6, "type": "quantitative", "scale": {"domain": [1939, 2009], "nice": false, "zero": false}, "axis": null},
                      "y": {"datum": 2.874, "type": "quantitative", "scale": {"domain": [1.65, 3.15], "nice": false, "zero": false}, "axis": null},
                      "text": {"field": "eq"}, "color": {"value": "#000000"}}},
        {"data": {"name": "eq"}, "transform": [{"filter": "datum.panel == 'D'"}], "mark": {"type": "text", "style": "eqi"},
         "encoding": {"x": {"datum": 1942.6, "type": "quantitative", "scale": {"domain": [1939, 2009], "nice": false, "zero": false}, "axis": null},
                      "y": {"datum": 2.874, "type": "quantitative", "scale": {"domain": [1.65, 3.15], "nice": false, "zero": false}, "axis": null},
                      "text": {"field": "it"}, "color": {"value": "#000000"}}},
        {"data": {"name": "eq"}, "transform": [{"filter": "datum.panel == 'D'"}], "mark": {"type": "text", "style": "eqr"},
         "encoding": {"x": {"datum": 1942.6, "type": "quantitative", "scale": {"domain": [1939, 2009], "nice": false, "zero": false}, "axis": null},
                      "y": {"datum": 2.874, "type": "quantitative", "scale": {"domain": [1.65, 3.15], "nice": false, "zero": false}, "axis": null},
                      "text": {"field": "rest"}, "color": {"value": "#000000"}}}
      ]
    },
    {
      "width": 428, "height": 260, "title": "E",
      "resolve": {"scale": {"x": "independent", "y": "independent"}},
      "layer": [
        {"data": {"name": "riboflavin"}, "transform": [{"fold": ["Riboflavin"], "as": ["series", "v"]}], "mark": "line",
         "encoding": {
           "x": {"field": "year", "type": "quantitative", "scale": {"domain": [1939, 2009], "nice": false, "zero": false},
                 "axis": {"orient": "bottom", "values": [1940, 1950, 1960, 1970, 1980, 1990, 2000], "format": "d", "title": "Year (Riboflavin)"}},
           "y": {"field": "v", "type": "quantitative", "scale": {"domain": [2.1, 3.1], "nice": false, "zero": false},
                 "axis": {"orient": "left", "values": [2.2, 2.4, 2.6, 2.8, 3.0], "format": ".1f", "title": "Per capita riboflavin (mg/d)", "titleY": 133}},
           "color": {"field": "series", "type": "nominal", "scale": {"domain": ["Riboflavin", "Energy"], "range": ["#000000", "#8b0000"]}, "legend": {"title": null, "legendX": 265, "legendY": 183.5}}}},
        {"data": {"name": "riboflavin"}, "transform": [{"fold": ["Riboflavin"], "as": ["series", "v"]}], "mark": "point",
         "encoding": {
           "x": {"field": "year", "type": "quantitative", "scale": {"domain": [1939, 2009], "nice": false, "zero": false}, "axis": null},
           "y": {"field": "v", "type": "quantitative", "scale": {"domain": [2.1, 3.1], "nice": false, "zero": false},
                 "axis": {"orient": "left", "values": [2.3, 2.5, 2.7, 2.9], "labels": false, "domain": false, "title": null, "tickSize": -3}},
           "color": {"field": "series", "type": "nominal", "scale": {"domain": ["Riboflavin", "Energy"], "range": ["#000000", "#8b0000"]}, "legend": {"title": null, "legendX": 265, "legendY": 183.5}},
           "fill": {"field": "series", "type": "nominal", "scale": {"domain": ["Riboflavin", "Energy"], "range": ["#ffffff", "#8b0000"]}, "legend": {"title": null, "legendX": 265, "legendY": 183.5}}}},
        {"data": {"name": "energy"}, "transform": [{"fold": ["Energy"], "as": ["series", "v"]}], "mark": "line",
         "encoding": {
           "x": {"field": "year", "type": "quantitative", "scale": {"domain": [1950, 2020], "nice": false, "zero": false},
                 "axis": {"orient": "top", "values": [1950, 1960, 1970, 1980, 1990, 2000, 2010, 2020], "format": "d", "title": "Year (Energy)", "domainColor": "#8b0000", "tickColor": "#8b0000"}},
           "y": {"field": "v", "type": "quantitative", "scale": {"domain": [3000, 4100], "nice": false, "zero": false},
                 "axis": {"orient": "right", "values": [3000, 3200, 3400, 3600, 3800, 4000], "format": "d", "title": "Per capita energy (kilocalories)", "titleY": 130}},
           "color": {"field": "series", "type": "nominal", "scale": {"domain": ["Riboflavin", "Energy"], "range": ["#000000", "#8b0000"]}, "legend": {"title": null, "legendX": 265, "legendY": 183.5}}}},
        {"data": {"name": "energy"}, "transform": [{"fold": ["Energy"], "as": ["series", "v"]}], "mark": "point",
         "encoding": {
           "x": {"field": "year", "type": "quantitative", "scale": {"domain": [1950, 2020], "nice": false, "zero": false}, "axis": null},
           "y": {"field": "v", "type": "quantitative", "scale": {"domain": [3000, 4100], "nice": false, "zero": false},
                 "axis": {"orient": "right", "values": [3100, 3200, 3300, 3400, 3500, 3600, 3700, 3800, 3900, 4000], "labels": false, "domain": false, "title": null, "tickSize": -4}},
           "color": {"field": "series", "type": "nominal", "scale": {"domain": ["Riboflavin", "Energy"], "range": ["#000000", "#8b0000"]}, "legend": {"title": null, "legendX": 265, "legendY": 183.5}},
           "fill": {"field": "series", "type": "nominal", "scale": {"domain": ["Riboflavin", "Energy"], "range": ["#ffffff", "#8b0000"]}, "legend": {"title": null, "legendX": 265, "legendY": 183.5}}}},
        {"data": {"name": "eq"}, "transform": [{"filter": "datum.panel == 'E'"}], "mark": {"type": "text", "style": "eq"},
         "encoding": {"x": {"datum": 1942.3, "type": "quantitative", "scale": {"domain": [1939, 2009], "nice": false, "zero": false}, "axis": null},
                      "y": {"datum": 2.923, "type": "quantitative", "scale": {"domain": [2.1, 3.1], "nice": false, "zero": false}, "axis": null},
                      "text": {"field": "eq"}, "color": {"value": "#000000"}}},
        {"data": {"name": "eq"}, "transform": [{"filter": "datum.panel == 'E'"}], "mark": {"type": "text", "style": "eqi"},
         "encoding": {"x": {"datum": 1942.3, "type": "quantitative", "scale": {"domain": [1939, 2009], "nice": false, "zero": false}, "axis": null},
                      "y": {"datum": 2.923, "type": "quantitative", "scale": {"domain": [2.1, 3.1], "nice": false, "zero": false}, "axis": null},
                      "text": {"field": "it"}, "color": {"value": "#000000"}}},
        {"data": {"name": "eq"}, "transform": [{"filter": "datum.panel == 'E'"}], "mark": {"type": "text", "style": "eqr"},
         "encoding": {"x": {"datum": 1942.3, "type": "quantitative", "scale": {"domain": [1939, 2009], "nice": false, "zero": false}, "axis": null},
                      "y": {"datum": 2.923, "type": "quantitative", "scale": {"domain": [2.1, 3.1], "nice": false, "zero": false}, "axis": null},
                      "text": {"field": "rest"}, "color": {"value": "#000000"}}}
      ]
    },
    {
      "width": 428, "height": 260, "title": "F",
      "resolve": {"scale": {"x": "independent", "y": "independent"}},
      "layer": [
        {"data": {"name": "riboflavin"}, "transform": [{"fold": ["Riboflavin"], "as": ["series", "v"]}], "mark": "line",
         "encoding": {
           "x": {"field": "year", "type": "quantitative", "scale": {"domain": [1939, 2009], "nice": false, "zero": false},
                 "axis": {"orient": "bottom", "values": [1940, 1950, 1960, 1970, 1980, 1990, 2000], "format": "d", "title": "Year (Riboflavin)"}},
           "y": {"field": "v", "type": "quantitative", "scale": {"domain": [2.1, 3.1], "nice": false, "zero": false},
                 "axis": {"orient": "left", "values": [2.2, 2.4, 2.6, 2.8, 3.0], "format": ".1f", "title": "Per capita riboflavin (mg/d)", "titleY": 131.5}},
           "color": {"field": "series", "type": "nominal", "scale": {"domain": ["Riboflavin", "Protein"], "range": ["#000000", "#008000"]}, "legend": {"title": null, "legendX": 264, "legendY": 183.5}}}},
        {"data": {"name": "riboflavin"}, "transform": [{"fold": ["Riboflavin"], "as": ["series", "v"]}], "mark": "point",
         "encoding": {
           "x": {"field": "year", "type": "quantitative", "scale": {"domain": [1939, 2009], "nice": false, "zero": false}, "axis": null},
           "y": {"field": "v", "type": "quantitative", "scale": {"domain": [2.1, 3.1], "nice": false, "zero": false},
                 "axis": {"orient": "left", "values": [2.3, 2.5, 2.7, 2.9], "labels": false, "domain": false, "title": null, "tickSize": -3}},
           "color": {"field": "series", "type": "nominal", "scale": {"domain": ["Riboflavin", "Protein"], "range": ["#000000", "#008000"]}, "legend": {"title": null, "legendX": 264, "legendY": 183.5}},
           "fill": {"field": "series", "type": "nominal", "scale": {"domain": ["Riboflavin", "Protein"], "range": ["#ffffff", "#008000"]}, "legend": {"title": null, "legendX": 264, "legendY": 183.5}}}},
        {"data": {"name": "protein"}, "transform": [{"fold": ["Protein"], "as": ["series", "v"]}], "mark": "line",
         "encoding": {
           "x": {"field": "year", "type": "quantitative", "scale": {"domain": [1950, 2020], "nice": false, "zero": false},
                 "axis": {"orient": "top", "values": [1950, 1960, 1970, 1980, 1990, 2000, 2010, 2020], "format": "d", "title": "Year (Protein)", "domainColor": "#008000", "tickColor": "#008000"}},
           "y": {"field": "v", "type": "quantitative", "scale": {"domain": [88, 120], "nice": false, "zero": false},
                 "axis": {"orient": "right", "values": [88, 96, 104, 112, 120], "format": "d", "title": "Per capita protein (g/d)", "titleY": 143, "titleX": 56}},
           "color": {"field": "series", "type": "nominal", "scale": {"domain": ["Riboflavin", "Protein"], "range": ["#000000", "#008000"]}, "legend": {"title": null, "legendX": 264, "legendY": 183.5}}}},
        {"data": {"name": "protein"}, "transform": [{"fold": ["Protein"], "as": ["series", "v"]}], "mark": "point",
         "encoding": {
           "x": {"field": "year", "type": "quantitative", "scale": {"domain": [1950, 2020], "nice": false, "zero": false}, "axis": null},
           "y": {"field": "v", "type": "quantitative", "scale": {"domain": [88, 120], "nice": false, "zero": false},
                 "axis": {"orient": "right", "values": [92, 96, 100, 104, 108, 112, 116], "labels": false, "domain": false, "title": null, "tickSize": -4}},
           "color": {"field": "series", "type": "nominal", "scale": {"domain": ["Riboflavin", "Protein"], "range": ["#000000", "#008000"]}, "legend": {"title": null, "legendX": 264, "legendY": 183.5}},
           "fill": {"field": "series", "type": "nominal", "scale": {"domain": ["Riboflavin", "Protein"], "range": ["#ffffff", "#008000"]}, "legend": {"title": null, "legendX": 264, "legendY": 183.5}}}},
        {"data": {"name": "eq"}, "transform": [{"filter": "datum.panel == 'F'"}], "mark": {"type": "text", "style": "eq"},
         "encoding": {"x": {"datum": 1942.6, "type": "quantitative", "scale": {"domain": [1939, 2009], "nice": false, "zero": false}, "axis": null},
                      "y": {"datum": 2.92, "type": "quantitative", "scale": {"domain": [2.1, 3.1], "nice": false, "zero": false}, "axis": null},
                      "text": {"field": "eq"}, "color": {"value": "#000000"}}},
        {"data": {"name": "eq"}, "transform": [{"filter": "datum.panel == 'F'"}], "mark": {"type": "text", "style": "eqi"},
         "encoding": {"x": {"datum": 1942.6, "type": "quantitative", "scale": {"domain": [1939, 2009], "nice": false, "zero": false}, "axis": null},
                      "y": {"datum": 2.92, "type": "quantitative", "scale": {"domain": [2.1, 3.1], "nice": false, "zero": false}, "axis": null},
                      "text": {"field": "it"}, "color": {"value": "#000000"}}},
        {"data": {"name": "eq"}, "transform": [{"filter": "datum.panel == 'F'"}], "mark": {"type": "text", "style": "eqr"},
         "encoding": {"x": {"datum": 1942.6, "type": "quantitative", "scale": {"domain": [1939, 2009], "nice": false, "zero": false}, "axis": null},
                      "y": {"datum": 2.92, "type": "quantitative", "scale": {"domain": [2.1, 3.1], "nice": false, "zero": false}, "axis": null},
                      "text": {"field": "rest"}, "color": {"value": "#000000"}}}
      ]
    },
    {
      "width": 428, "height": 79,
      "data": {"name": "caption"},
      "encoding": {
        "y": {"field": "line", "type": "ordinal", "axis": null, "scale": {"type": "point", "padding": 0}},
        "x": {"value": 0},
        "text": {"field": "text"}
      },
      "layer": [
        {"transform": [{"filter": "datum.part == 'title'"}], "mark": {"type": "text", "style": "capb"}},
        {"transform": [{"filter": "datum.part == 'lead'"}], "mark": {"type": "text", "style": "capl"}},
        {"transform": [{"filter": "datum.part == 'body'"}], "mark": {"type": "text", "style": "capn"}}
      ]
    }
  ],
  "config": {
    "font": "Liberation Sans",
    "view": {"stroke": null},
    "axis": {
      "labelFont": "Liberation Sans", "labelFontSize": 18, "labelColor": "#000000",
      "titleFont": "Liberation Sans", "titleFontSize": 19, "titleFontWeight": "normal", "titleColor": "#000000",
      "domainColor": "#000000", "tickColor": "#000000", "domainWidth": 1, "tickWidth": 1,
      "grid": false, "labelFlush": false, "labelOverlap": false
    },
    "axisLeft": {"tickSize": -5, "labelPadding": 9, "titleAngle": 270, "titleX": -45, "titleBaseline": "middle"},
    "axisRight": {"tickSize": 5, "labelPadding": 2, "titleAngle": 270, "titleX": 67, "titleBaseline": "middle"},
    "axisTop": {"tickSize": -5, "labelPadding": 7, "titleY": 17, "titleBaseline": "middle"},
    "axisBottom": {"tickSize": -5, "labelPadding": 10, "titleY": 32.5, "titleBaseline": "middle"},
    "legend": {
      "orient": "none",
      "symbolType": "M-1,0H-0.38M0.38,0H1M0.38,0A0.38,0.38,0,1,1,-0.38,0A0.38,0.38,0,1,1,0.38,0Z",
      "symbolSize": 1764, "symbolStrokeWidth": 1.2,
      "labelFont": "Liberation Sans", "labelFontSize": 19, "labelColor": "#000000",
      "labelOffset": 5, "clipHeight": 29, "rowPadding": 0, "padding": 0, "symbolOpacity": 1
    },
    "title": {"anchor": "start", "frame": "group", "dx": -82, "dy": 30, "fontSize": 30, "fontWeight": "normal", "font": "Liberation Sans", "color": "#000000"},
    "line": {"strokeWidth": 1.2},
    "point": {"size": 105, "strokeWidth": 1.1, "opacity": 1, "filled": false},
    "style": {
      "eq": {"align": "left", "baseline": "top", "lineBreak": "\n", "lineHeight": 24, "fontSize": 19, "font": "Liberation Sans"},
      "eqi": {"align": "left", "baseline": "top", "lineBreak": "\n", "lineHeight": 24, "fontSize": 19, "font": "Liberation Sans", "fontStyle": "italic"},
      "eqr": {"align": "left", "baseline": "top", "lineBreak": "\n", "lineHeight": 24, "fontSize": 19, "font": "Liberation Sans", "dx": 15},
      "capb": {"align": "left", "baseline": "middle", "font": "DejaVu Sans", "fontSize": 17.2, "fontWeight": "bold", "color": "#222222", "dx": -114, "dy": -13},
      "capl": {"align": "left", "baseline": "middle", "font": "DejaVu Sans", "fontSize": 17, "color": "#444444", "dx": 988, "dy": -13},
      "capn": {"align": "left", "baseline": "middle", "font": "DejaVu Sans", "fontSize": 17, "color": "#444444", "dx": -114, "dy": -13}
    }
  }
}
